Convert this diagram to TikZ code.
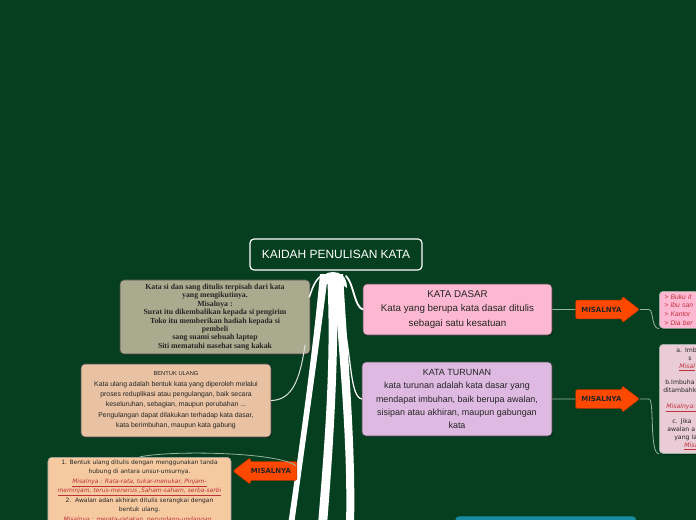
\documentclass[tikz,border=0pt]{standalone}
\usepackage{fontspec}
\setmainfont{Liberation Sans}
\newfontfamily\serifbf{Liberation Serif}
\newfontfamily\verdana{DejaVu Sans}
\usetikzlibrary{arrows.meta, positioning, calc, shapes.arrows, shadows}
\definecolor{latar}{RGB}{6,63,32}
\definecolor{sisangcolor}{RGB}{170,170,142}
\definecolor{ulangcolor}{RGB}{232,194,162}
\definecolor{aturancolor}{RGB}{246,202,160}
\definecolor{dasarcolor}{RGB}{252,184,208}
\definecolor{turunancolor}{RGB}{222,186,226}
\definecolor{contohpink}{RGB}{255,184,210}
\definecolor{contohmauve}{RGB}{234,204,214}
\definecolor{miscolor}{RGB}{255,72,0}
\definecolor{merah}{RGB}{190,50,60}
\definecolor{linkcolor}{RGB}{150,180,160}
\definecolor{tealcolor}{RGB}{24,140,160}
\newcommand{\contoh}[1]{\textcolor{merah}{\itshape\underline{#1}}}

\begin{document}
\begin{tikzpicture}[x=1bp, y=-1bp,
    box/.style={draw=black!70, rounded corners=4bp, line width=0.6bp, align=center, inner sep=2bp, text=black!85,
        drop shadow={shadow xshift=0.8bp, shadow yshift=-1bp, fill=black, opacity=0.45}},
    misal/.style={single arrow, fill=miscolor, draw=miscolor!70!black, line width=0.4bp, rounded corners=1.5bp,
        single arrow head extend=4bp, single arrow tip angle=75, minimum height=64bp, inner xsep=2bp, inner ysep=6.5bp,
        font=\verdana\bfseries\fontsize{7}{8}\selectfont, text=black!85},
    link/.style={draw=linkcolor, line width=0.8bp},
    cabang/.style={draw=white, line cap=round},
]
    \path[use as bounding box] (0,0) rectangle (696,520);
    \clip (0,0) rectangle (696,520);
    \fill[latar] (0,0) rectangle (696,520);

    \node[draw=white, line width=1.2bp, rounded corners=4bp, fill=latar, text=white, minimum width=172bp, minimum height=31bp,
        font=\fontsize{12}{14}\selectfont] (akar) at (336,254.5) {KAIDAH PENULISAN KATA};

    \fill[white] (320,274) .. controls (314,340) and (302,430) .. (288,525) -- (294,525) .. controls (307,430) and (320,340) .. (328,274) -- cycle;
    \fill[white] (327,274) .. controls (332,360) and (324,450) .. (318,525) -- (327,525) .. controls (333,450) and (339,360) .. (337,274) -- cycle;
    \fill[white] (333,274) .. controls (340,360) and (348,450) .. (346,525) -- (354,525) .. controls (356,450) and (348,360) .. (343,274) -- cycle;
    \fill[white] (319,288) .. controls (319,276) and (326,272) .. (333,272) .. controls (340,272) and (347,276) .. (347,288)
        .. controls (340,282) and (326,282) .. (319,288) -- cycle;

    \node[box, fill=sisangcolor, minimum width=190bp, minimum height=74bp, font=\serifbf\bfseries\fontsize{7.8}{8.4}\selectfont] (sisang) at (215,317)
        {Kata si dan sang ditulis terpisah dari kata\\yang mengikutinya.\\Misalnya :\\Surat itu dikembalikan kepada si pengirim\\Toko itu memberikan hadiah kepada si\\pembeli\\sang suami sebuah laptop\\Siti mematuhi nasehat sang kakak};
    \node[box, fill=ulangcolor, minimum width=190bp, minimum height=73bp, font=\fontsize{6.9}{10.4}\selectfont] (ulang) at (176,400.5)
        {{\fontsize{5.8}{10.4}\selectfont BENTUK ULANG}\\Kata ulang adalah bentuk kata yang diperoleh melalui\\proses reduplikasi atau pengulangan, baik secara\\keseluruhan, sebagian, maupun perubahan ...\\Pengulangan dapat dilakukan terhadap kata dasar,\\kata berimbuhan, maupun kata gabung};
    \node[box, fill=aturancolor, draw=black!35, anchor=north, minimum width=183bp, inner ysep=2.5bp, font=\verdana\fontsize{6}{9.5}\selectfont] (aturan) at (139.5,457)
        {1. Bentuk ulang ditulis dengan menggunakan tanda\\hubung di antara unsur-unsurnya.\\
        \contoh{Misalnya : Rata-rata, tukar-menukar, Pinjam-}\\\contoh{meminjam, terus-menerus ,Saham-saham, serba-serbi}\\
        2.\ \ Awalan adan akhiran ditulis serangkai dengan\\bentuk ulang.\\
        \contoh{Misalnya : merata-ratakan ,perundang-undangan ,}\\\contoh{melambai-lambaikan, dibesar-besarkan ,memata-matai}};

    \node[box, fill=dasarcolor, minimum width=189bp, minimum height=51bp, font=\fontsize{9.8}{14.5}\selectfont] (dasar) at (457.5,309.5)
        {KATA DASAR\\Kata yang berupa kata dasar ditulis\\sebagai satu kesatuan};
    \node[box, fill=turunancolor, minimum width=190bp, minimum height=74bp, font=\fontsize{9}{13.5}\selectfont] (turunan) at (457,399)
        {KATA TURUNAN\\kata turunan adalah kata dasar yang\\mendapat imbuhan, baik berupa awalan,\\sisipan atau akhiran, maupun gabungan\\kata};

    \node[misal, right=23bp of dasar] (mis1) {MISALNYA};
    \node[misal, right=23bp of turunan] (mis2) {MISALNYA};
    \node[misal, shape border rotate=180] (mis3) at (271,471) {MISALNYA};

    \node[box, fill=contohpink, draw=linkcolor, anchor=north west, text width=122bp, align=left, minimum height=37bp, inner xsep=5bp, inner ysep=2.5bp,
        font=\itshape\fontsize{6.8}{8.7}\selectfont, text=merah] (contoh1) at (659,291)
        {> Buku it\\> Ibu san\\> Kantor\\> Dia ber};
    \node[box, fill=contohmauve, draw=linkcolor, anchor=north west, text width=122bp, align=left, minimum height=109bp, inner xsep=4bp, inner ysep=4bp,
        font=\verdana\fontsize{6.2}{7.9}\selectfont] (contoh2) at (659,344)
        {\hspace*{13bp}a. Imb\\\hspace*{25bp}s\\\hspace*{16bp}\contoh{Misal}\\\mbox{}\\\hspace*{2bp}b.Imbuha\\ditambahk\\\mbox{}\\
        \hspace*{3bp}\contoh{Misalnya:}\\\mbox{}\\\hspace*{9bp}c. Jika\\\hspace*{4bp}awalan a\\\hspace*{11bp}yang la\\\hspace*{21bp}\contoh{Misa}};

    \node[box, fill=tealcolor, draw=none, anchor=north west, minimum width=181bp, minimum height=40bp] (bawah) at (455,516) {};

    \draw[cabang, line width=1.5bp] (321,276) .. controls (314,281) and (312,290) .. ($(sisang.east)+(-1,-20)$);
    \draw[cabang, line width=1.8bp] (346,276) .. controls (354,284) and (354,306) .. (dasar.west);
    \draw[cabang, line width=1.2bp] (343,320) .. controls (352,360) and (350,396) .. (turunan.west);
    \draw[cabang, draw=white!85!latar, line width=1bp] (305,345) .. controls (300,380) and (292,400) .. (ulang.east);
    \draw[link] (296,466) .. controls (280,452) and (170,450) .. (aturan.north);

    \draw[link] (dasar.east) -- (mis1);
    \draw[link] (turunan.east) -- (mis2);
    \draw[link] (mis1.tip) -- ++(9,0) .. controls +(5,0) and +(-8,0) .. (contoh1.south west);
    \draw[link] (mis2.tip) -- ++(9,0) .. controls +(6,0) and +(-10,0) .. (contoh2.south west);
\end{tikzpicture}
\end{document}
